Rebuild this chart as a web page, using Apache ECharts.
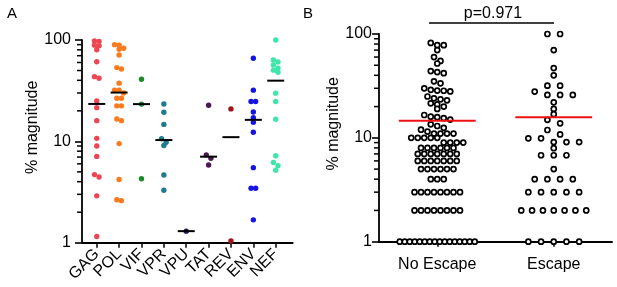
<!DOCTYPE html>
<html>
<head>
<meta charset="utf-8">
<script src="https://cdn.jsdelivr.net/npm/echarts@6/dist/echarts.min.js"></script>
<style>
  html, body { margin: 0; padding: 0; background: #fff; }
  #chart { width: 617px; height: 287px; }
</style>
</head>
<body>
<div id="chart"></div>
<script>
// ---- Panel A: response magnitude per HIV protein ----
const proteins = ['GAG', 'POL', 'VIF', 'VPR', 'VPU', 'TAT', 'REV', 'ENV', 'NEF']
const proteinColors = ['#ec4654', '#fa7a1e', '#1b8a24', '#1f7b8f', '#1a1a52', '#4c1852', '#a3111b', '#1515e2', '#3fe6a9']

const gag = [98, 97, 89, 88, 80, 61, 43.5, 42, 25, 21.5, 16, 10.7, 9, 7.1, 4.7, 4.45, 2.9, 1.15]
const pol = [90, 89, 83, 81, 71, 53.4, 51.8, 37.5, 32, 32, 30, 26.6, 26.6, 22.4, 22.4, 16.6, 16, 9.5, 4.2, 2.65, 2.6]
const vif = [41, 23.3, 4.28]
const vpr = [23.4, 19.4, 14.7, 10.6, 9.8, 9.1, 4.66, 3.29]
const vpu = [1.3]
const tat = [22.7, 7.36, 6.8, 5.85]
const rev = [20.9, 1.04]
const env = [66, 32, 24.7, 24.7, 19.5, 17.1, 15.4, 12.3, 5.5, 3.44, 3.44, 1.68]
const nef = [100, 63.6, 60.7, 56.6, 52.8, 50.4, 48.1, 29.9, 24.7, 16.5, 7.2, 6.2, 5.76, 5.2]
const medianA = [23.4, 30.3, 23.3, 10.3, 1.3, 7.06, 11, 16.3, 39.7]

// ---- Panel B: escape vs no escape ----
const groups = ['No Escape', 'Escape']
const noEscape = [
  82, 78, 78, 70, 60, 55, 52, 44, 43, 42, 35, 33.5,
  30, 29, 28.5, 28.4, 28, 25, 24, 23.5, 23, 21.5, 21, 20, 19,
  16.6, 16, 15.8, 15.5, 15, 13.5, 13, 12.5, 12, 11.5, 11, 11, 11, 11,
  10, 10, 10, 10, 10,
  9, 9, 9, 9,
  8, 8, 8, 8, 8, 8,
  7, 7, 7, 7, 7, 7, 7,
  6, 6, 6, 6, 6, 6, 6,
  5, 5, 5, 5, 5, 5,
  4, 4, 4,
  3, 3, 3, 3, 3, 3, 3, 3,
  2, 2, 2, 2, 2, 2, 2, 2,
  1, 1, 1, 1, 1, 1, 1, 1, 1, 1, 1, 1, 1, 1, 1, 1
]
const escape = [
  100, 100, 70, 47, 40, 31.8, 31.8, 27.9, 25.9, 25.9, 25.9, 22, 19, 16.9, 14.9, 13.8, 11.9,
  10.8, 9.9, 9.9, 9.1, 9.1, 9.1, 7.95, 6.8, 6.8, 6.8, 5,
  4, 4, 4, 4,
  3, 3, 3, 3, 3,
  2, 2, 2, 2, 2, 2, 2,
  1, 1, 1, 1, 1
]
const meanB = [14.6, 15.8]
const pValueText = 'p=0.971'

// log minor ticks
const minorTicks = [2, 3, 4, 5, 6, 7, 8, 9, 20, 30, 40, 50, 60, 70, 80, 90]

const font = "'Liberation Sans', Arial, sans-serif"
const A_X = [0.34, 9.76]
const B_X = [-0.5, 1.5]

const axisLine = { show: true, onZero: false, lineStyle: { color: '#000', width: 1.8 } }

const yAxisBase = (nameGap, margin) => ({
  type: 'log',
  logBase: 10,
  min: 1,
  max: 100,
  axisLine,
  axisTick: { show: true, length: 7, lineStyle: { color: '#000', width: 1.6 } },
  axisLabel: { color: '#000', fontSize: 16, fontFamily: font, margin },
  splitLine: { show: false },
  name: '% magnitude',
  nameLocation: 'middle',
  nameRotate: 90,
  nameGap,
  nameTextStyle: { color: '#000', fontSize: 16, fontFamily: font, padding: [0, 0, 0, 28] }
})

const lineSeries = (xi, yi, data, hw, color) => ({
  type: 'custom',
  xAxisIndex: xi,
  yAxisIndex: yi,
  clip: false,
  silent: true,
  z: 5,
  data,
  renderItem: (params, api) => {
    const c = api.value(0)
    const v = api.value(1)
    const a = api.coord([c - hw, v])
    const b = api.coord([c + hw, v])
    return {
      type: 'line',
      shape: { x1: a[0], y1: a[1], x2: b[0], y2: b[1] },
      style: { stroke: color, lineWidth: 2 }
    }
  }
})

// short marks outside the log axis at 2..9 and 20..90
const minorTickSeries = (xi, yi, xMin) => ({
  type: 'custom',
  xAxisIndex: xi,
  yAxisIndex: yi,
  clip: false,
  silent: true,
  z: 6,
  data: minorTicks.map(v => [xMin, v]),
  renderItem: (params, api) => {
    const p = api.coord([api.value(0), api.value(1)])
    return { type: 'rect', shape: { x: p[0] - 5, y: p[1] - 0.75, width: 5, height: 1.5 }, style: { fill: '#000' } }
  }
})

const chart = echarts.init(document.getElementById('chart'), null, { renderer: 'canvas' })

const option = {
  animation: false,
  backgroundColor: '#fff',
  title: [
    { text: 'A', left: 2, top: 1, textStyle: { fontSize: 15, fontWeight: 'normal', color: '#000', fontFamily: font } },
    { text: 'B', left: 298, top: 1, textStyle: { fontSize: 15, fontWeight: 'normal', color: '#000', fontFamily: font } }
  ],
  grid: [
    { left: 82, top: 40, width: 210.7, height: 202.7, outerBoundsMode: 'none' },
    { left: 379, top: 34, width: 233, height: 207.7, outerBoundsMode: 'none' }
  ],
  xAxis: [
    {
      type: 'value',
      gridIndex: 0,
      min: A_X[0],
      max: A_X[1],
      axisLine,
      axisTick: { show: true, customValues: [1, 2, 3, 4, 5, 6, 7, 8, 9], length: 5, lineStyle: { color: '#000', width: 1.5 } },
      axisLabel: {
        customValues: [1, 2, 3, 4, 5, 6, 7, 8, 9],
        formatter: v => proteins[Math.round(v) - 1],
        rotate: 45,
        margin: 9,
        color: '#000',
        fontSize: 16,
        fontFamily: font
      },
      splitLine: { show: false }
    },
    {
      type: 'value',
      gridIndex: 1,
      min: B_X[0],
      max: B_X[1],
      axisLine,
      axisTick: { show: true, customValues: [0, 1], length: 5, lineStyle: { color: '#000', width: 1.5 } },
      axisLabel: {
        customValues: [0, 1],
        formatter: v => groups[Math.round(v)],
        margin: 15,
        color: '#000',
        fontSize: 16,
        fontFamily: font
      },
      splitLine: { show: false }
    }
  ],
  yAxis: [
    Object.assign({ gridIndex: 0 }, yAxisBase(26, 11)),
    Object.assign({ gridIndex: 1 }, yAxisBase(22, 7))
  ],
  graphic: [
    { type: 'line', shape: { x1: 429, y1: 23, x2: 554, y2: 23 }, style: { stroke: '#000', lineWidth: 1.4 } },
    { type: 'text', x: 493, y: 14, style: { text: pValueText, fontSize: 16, fontFamily: font, fill: '#000', align: 'center', verticalAlign: 'middle' } }
  ],
  series: []
}

chart.setOption(option)

// Prism-like row layout: bin points by pixel height, spread each bin sideways
function swarm (values, cat, axisIdx, rowH, step, maxW, extra) {
  const x0 = chart.convertToPixel({ xAxisIndex: axisIdx }, cat)
  const x1 = chart.convertToPixel({ xAxisIndex: axisIdx }, cat + 1)
  const unit = x1 - x0
  const pts = values
    .map(v => ({ v, py: chart.convertToPixel({ yAxisIndex: axisIdx }, v) }))
    .sort((a, b) => a.py - b.py)
  const out = []
  let row = []
  const flush = () => {
    const n = row.length
    const s = n > 1 ? Math.min(step, maxW / (n - 1)) : 0
    row.forEach((p, i) => out.push([cat + (i - (n - 1) / 2) * s / unit, p.v, extra]))
    row = []
  }
  pts.forEach(p => {
    if (row.length && p.py - row[0].py > rowH) flush()
    row.push(p)
  })
  flush()
  return out
}

const proteinData = [gag, pol, vif, vpr, vpu, tat, rev, env, nef]
let pointsA = []
proteinData.forEach((vals, i) => {
  pointsA = pointsA.concat(swarm(vals, i + 1, 0, 4, 4.6, 20, i))
})
const pointsB = swarm(noEscape, 0, 1, 5, 6.5, 75, 0).concat(swarm(escape, 1, 1, 5, 12.7, 65, 1))

chart.setOption({
  series: [
    {
      type: 'scatter',
      xAxisIndex: 0,
      yAxisIndex: 0,
      symbolSize: 5.4,
      clip: false,
      data: pointsA,
      itemStyle: { color: p => proteinColors[p.data[2]], opacity: 1 }
    },
    lineSeries(0, 0, medianA.map((m, i) => [i + 1, m]), 0.38, '#000'),
    minorTickSeries(0, 0, A_X[0]),
    {
      type: 'scatter',
      xAxisIndex: 1,
      yAxisIndex: 1,
      symbolSize: 5,
      clip: false,
      data: pointsB,
      itemStyle: { color: '#fff', borderColor: '#000', borderWidth: 1.7, opacity: 1 }
    },
    lineSeries(1, 1, meanB.map((m, i) => [i, m]), 0.33, '#ee1111'),
    minorTickSeries(1, 1, B_X[0])
  ]
})
</script>
</body>
</html>
